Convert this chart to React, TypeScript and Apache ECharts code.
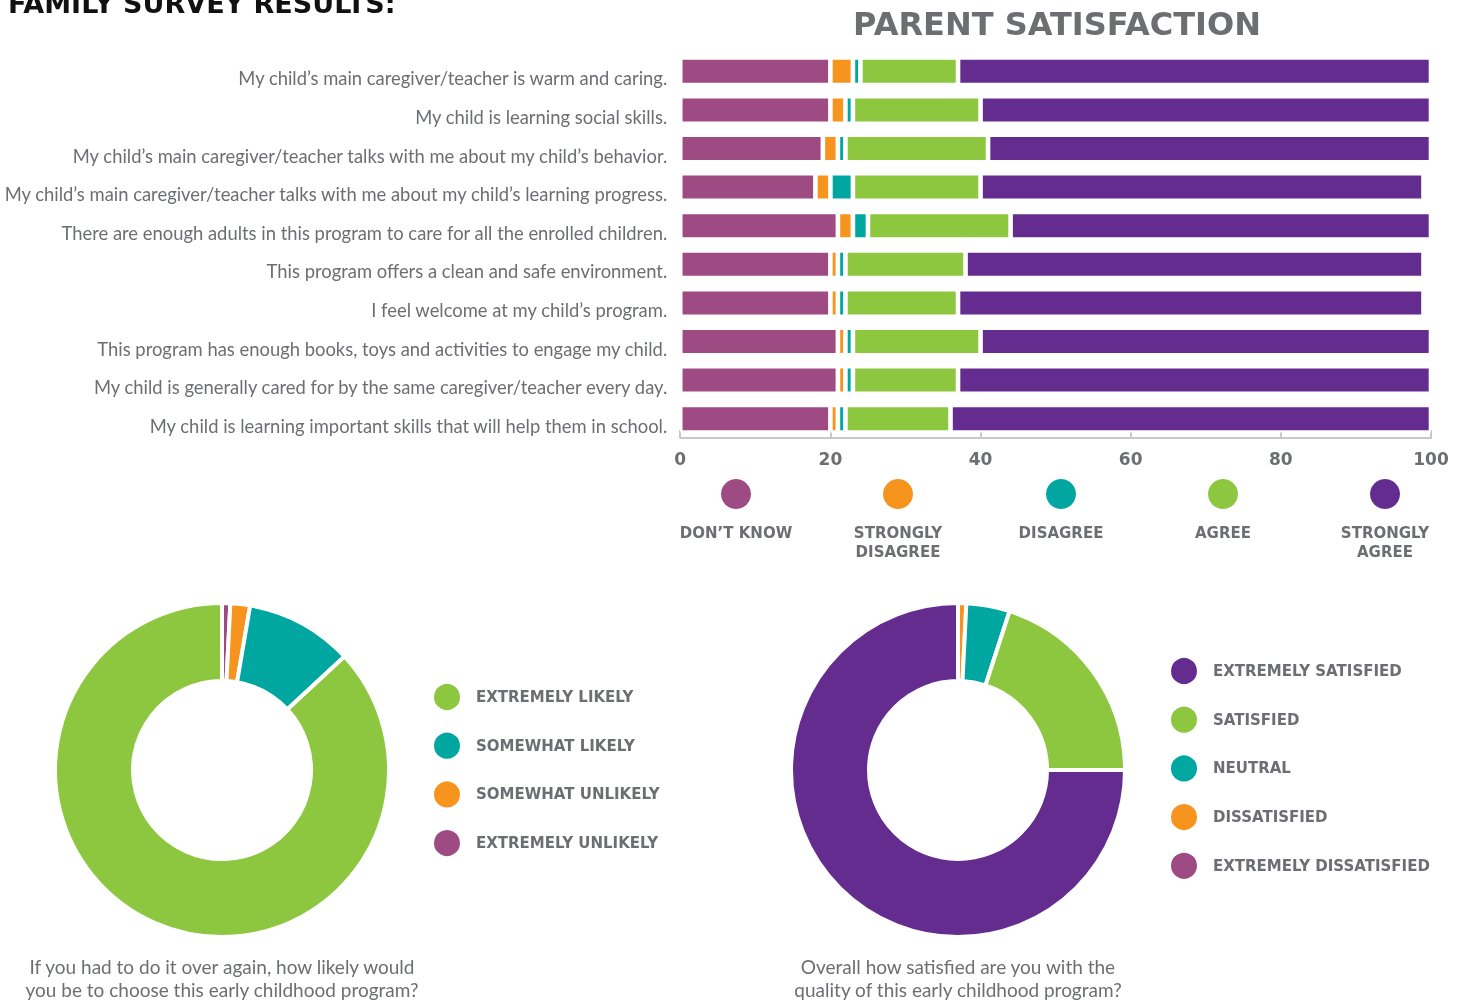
import React, { useEffect, useRef } from "react";
import * as echarts from "echarts";

const questions = [
  "My child’s main caregiver/teacher is warm and caring.",
  "My child is learning social skills.",
  "My child’s main caregiver/teacher talks with me about my child’s behavior.",
  "My child’s main caregiver/teacher talks with me about my child’s learning progress.",
  "There are enough adults in this program to care for all the enrolled children.",
  "This program offers a clean and safe environment.",
  "I feel welcome at my child’s program.",
  "This program has enough books, toys and activities to engage my child.",
  "My child is generally cared for by the same caregiver/teacher every day.",
  "My child is learning important skills that will help them in school.",
];
const dontKnow = [20, 20, 19, 18, 21, 20, 20, 21, 21, 20];
const stronglyDisagree = [3, 2, 2, 2, 2, 1, 1, 1, 1, 1];
const disagree = [1, 1, 1, 3, 2, 1, 1, 1, 1, 1];
const agree = [13, 17, 19, 17, 19, 16, 15, 17, 14, 14];
const stronglyAgree = [63, 60, 59, 59, 56, 61, 62, 60, 63, 64];

const barSeriesNames = ["DON’T KNOW", "STRONGLY\nDISAGREE", "DISAGREE", "AGREE", "STRONGLY\nAGREE"];

const likelyNames = ["EXTREMELY UNLIKELY", "SOMEWHAT UNLIKELY", "SOMEWHAT LIKELY", "EXTREMELY LIKELY"];
const likelyValues = [0.8, 1.9, 10.4, 86.9];
const satisfiedNames = ["EXTREMELY DISSATISFIED", "DISSATISFIED", "NEUTRAL", "SATISFIED", "EXTREMELY SATISFIED"];
const satisfiedValues = [0, 0.8, 4.2, 20, 75];

const xTicks = [0, 20, 40, 60, 80, 100];

const MAGENTA = "#9e4a83";
const ORANGE = "#f7941e";
const TEAL = "#00a6a0";
const GREEN = "#8dc63f";
const PURPLE = "#652c8f";
const GRAY = "#6d6e71";

const barColors = [MAGENTA, ORANGE, TEAL, GREEN, PURPLE];
const likelyColors = [MAGENTA, ORANGE, TEAL, GREEN];
const satisfiedColors = [MAGENTA, ORANGE, TEAL, GREEN, PURPLE];

export default function App() {
  const ref = useRef<HTMLDivElement>(null);
  useEffect(() => {
    if (!ref.current) return;
    const chart = echarts.init(ref.current, null, { renderer: "svg" });
    const barData = [dontKnow, stronglyDisagree, disagree, agree, stronglyAgree];
    const legendX = [736, 898, 1061, 1223, 1385];
    const graphics: any[] = [
      {
        type: "text",
        left: 8,
        top: -10,
        style: { text: "FAMILY SURVEY RESULTS:", font: "bold 27px 'DejaVu Sans'", fill: "#111" },
      },
      {
        type: "text",
        x: 1057,
        y: 24,
        style: {
          text: "PARENT SATISFACTION",
          font: "bold 32px 'DejaVu Sans'",
          fill: GRAY,
          align: "center",
          verticalAlign: "middle",
        },
      },
    ];
    barSeriesNames.forEach((n, i) => {
      graphics.push({
        type: "circle",
        shape: { cx: legendX[i], cy: 494, r: 15 },
        style: { fill: barColors[i] },
      });
      graphics.push({
        type: "text",
        x: legendX[i],
        y: 523,
        style: {
          text: n,
          font: "bold 15px 'DejaVu Sans'",
          fill: GRAY,
          align: "center",
          verticalAlign: "top",
          lineHeight: 19,
        },
      });
    });
    graphics.push({
      type: "text",
      x: 222,
      y: 978,
      style: {
        text: "If you had to do it over again, how likely would\nyou be to choose this early childhood program?",
        font: "19px Lato",
        fill: GRAY,
        align: "center",
        verticalAlign: "middle",
        lineHeight: 23,
      },
    });
    graphics.push({
      type: "text",
      x: 958,
      y: 978,
      style: {
        text: "Overall how satisfied are you with the\nquality of this early childhood program?",
        font: "19px Lato",
        fill: GRAY,
        align: "center",
        verticalAlign: "middle",
        lineHeight: 23,
      },
    });

    const legendText = { fontSize: 15, fontWeight: "bold", color: GRAY, fontFamily: "DejaVu Sans", padding: [0, 0, 0, 10] };

    chart.setOption({
      animation: false,
      textStyle: { fontFamily: "Lato" },
      grid: { left: 680, right: 29, top: 52, height: 386, containLabel: false },
      xAxis: {
        type: "value",
        min: 0,
        max: 100,
        interval: 20,
        axisLine: { show: true, lineStyle: { color: "#c7c8ca", width: 2 } },
        axisTick: { show: true, inside: true, length: 8, lineStyle: { color: "#c7c8ca", width: 2 } },
        splitLine: { show: false },
        axisLabel: {
          fontSize: 17,
          fontWeight: "bold",
          color: GRAY,
          margin: 12,
          fontFamily: "DejaVu Sans",
          formatter: (v: number) => (xTicks.includes(v) ? String(v) : ""),
        },
      },
      yAxis: {
        type: "category",
        data: questions,
        inverse: true,
        axisLine: { show: false },
        axisTick: { show: false },
        axisLabel: {
          fontSize: 18.4,
          color: GRAY,
          margin: 13,
          fontFamily: "Lato",
          verticalAlign: "top",
          lineHeight: 14,
        },
      },
      legend: [
        {
          orient: "vertical",
          left: 427,
          top: 677,
          itemWidth: 28,
          itemHeight: 28,
          itemGap: 18.7,
          icon: "circle",
          data: [...likelyNames].reverse(),
          textStyle: legendText,
          selectedMode: false,
        },
        {
          orient: "vertical",
          left: 1164,
          top: 651,
          itemWidth: 28,
          itemHeight: 28,
          itemGap: 18.7,
          icon: "circle",
          data: [...satisfiedNames].reverse(),
          textStyle: legendText,
          selectedMode: false,
        },
      ],
      series: [
        ...barData.map((d, i) => ({
          type: "bar",
          name: barSeriesNames[i],
          stack: "total",
          data: d,
          barWidth: 27.6,
          itemStyle: { color: barColors[i], borderColor: "#fff", borderWidth: 2.3 },
        })),
        {
          type: "pie",
          center: [222, 770],
          radius: [89, 167],
          startAngle: 90,
          clockwise: true,
          label: { show: false },
          labelLine: { show: false },
          itemStyle: { borderColor: "#fff", borderWidth: 4 },
          data: likelyNames.map((n, i) => ({ name: n, value: likelyValues[i], itemStyle: { color: likelyColors[i] } })),
        },
        {
          type: "pie",
          center: [958, 770],
          radius: [89, 167],
          startAngle: 90,
          clockwise: true,
          label: { show: false },
          labelLine: { show: false },
          itemStyle: { borderColor: "#fff", borderWidth: 4 },
          data: satisfiedNames.map((n, i) => ({ name: n, value: satisfiedValues[i], itemStyle: { color: satisfiedColors[i] } })),
        },
      ],
      graphic: graphics,
    });
    return () => chart.dispose();
  }, []);
  return <div ref={ref} style={{ position: "fixed", left: 0, top: 0, width: 1460, height: 1000 }} />;
}
